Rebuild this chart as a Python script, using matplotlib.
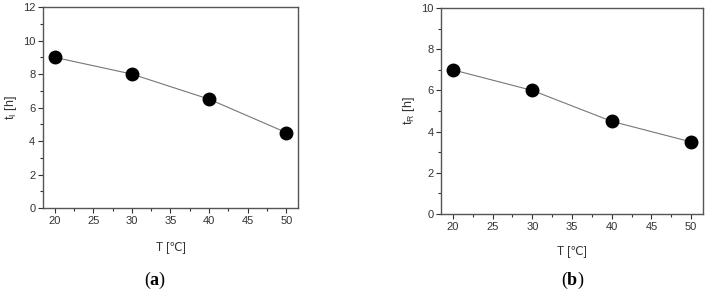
import matplotlib
matplotlib.use("Agg")
import matplotlib.pyplot as plt
from matplotlib.ticker import MultipleLocator

plt.rcParams['font.family'] = ['Liberation Sans', 'DejaVu Sans']
plt.rcParams['mathtext.fontset'] = 'custom'
plt.rcParams['mathtext.rm'] = 'Liberation Sans'
plt.rcParams['mathtext.it'] = 'Liberation Sans'
plt.rcParams['mathtext.bf'] = 'Liberation Serif:bold'

# data
temp = [20, 30, 40, 50]
t_I = [9, 8, 6.5, 4.5]
t_R = [7, 6, 4.5, 3.5]
xticks = [20, 25, 30, 35, 40, 45, 50]

fig = plt.figure(figsize=(7.07, 2.95), dpi=100)
ax1 = fig.add_axes([0.0608, 0.2949, 0.3607, 0.681])
ax2 = fig.add_axes([0.6238, 0.2746, 0.3706, 0.698])

def style(ax, y, ymax, ylab, xpad):
    ax.plot(temp, y, color='#777777', lw=0.8, zorder=1)
    ax.plot(temp, y, 'o', color='black', ms=9, zorder=2)
    ax.set_xlim(18.5, 51.5)
    ax.set_ylim(0, ymax)
    ax.set_xticks(xticks)
    ax.yaxis.set_major_locator(MultipleLocator(2))
    ax.yaxis.set_minor_locator(MultipleLocator(1))
    ax.xaxis.set_minor_locator(MultipleLocator(2.5))
    ax.tick_params(which='major', direction='out', length=3.5, width=0.8,
                   labelsize=8, colors='#333333', pad=2)
    ax.tick_params(which='minor', direction='out', length=2, width=0.8, colors='#333333')
    for s in ax.spines.values():
        s.set_color('#555555')
        s.set_linewidth(1.0)
    ax.set_xlabel('T [℃]', fontsize=8.5, color='#333333', labelpad=xpad)
    ax.set_ylabel(ylab, fontsize=9, color='#333333', labelpad=3)

style(ax1, t_I, 12, r't$_\mathrm{I}$ [h]', 12)
style(ax2, t_R, 10, r't$_\mathrm{R}$ [h]', 10)

fig.text(155 / 707, 1 - 280 / 295, r'($\mathbf{a}$)', ha='center', va='center',
         fontsize=13, family='Liberation Serif')
fig.text(573 / 707, 1 - 280 / 295, r'($\mathbf{b}$)', ha='center', va='center',
         fontsize=13, family='Liberation Serif')

fig.savefig('out.png', dpi=100)
